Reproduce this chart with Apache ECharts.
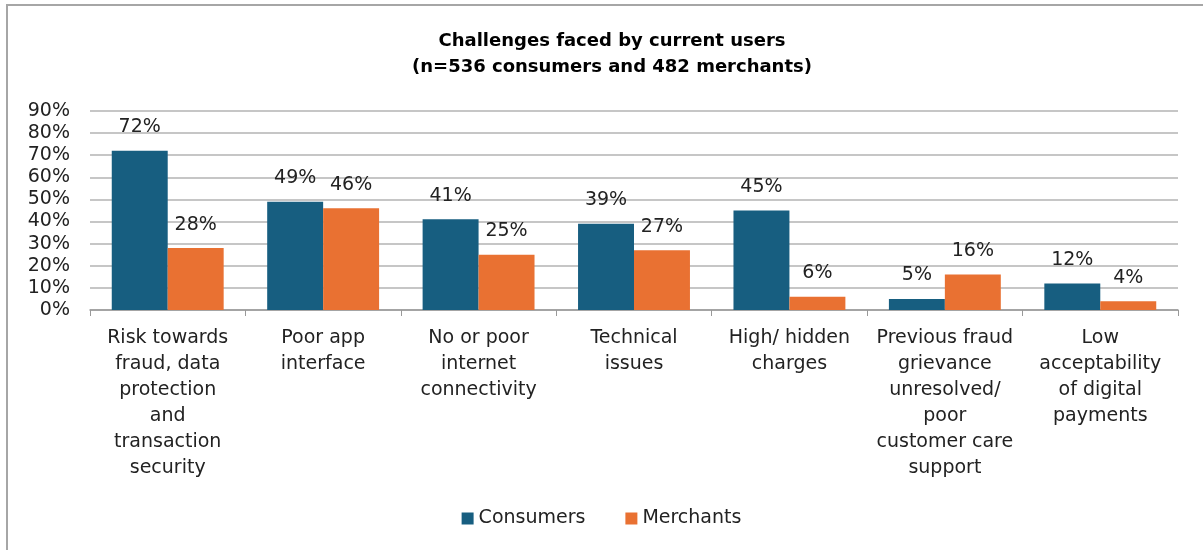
<!DOCTYPE html>
<html><head><meta charset="utf-8">
<script src="https://cdn.jsdelivr.net/npm/echarts@6/dist/echarts.min.js"></script>
<style>
html,body{margin:0;padding:0;background:#fff;overflow:hidden;}
#ltop{position:absolute;left:6px;top:4px;width:1197px;height:2px;background:#a6a6a6;}
#lleft{position:absolute;left:6px;top:4px;width:2px;height:546px;background:#a6a6a6;}
#chart{position:absolute;left:0;top:0;width:1203px;height:550px;}
</style></head>
<body>
<div id="ltop"></div>
<div id="lleft"></div>
<div id="chart"></div>
<script>
const categories = [
  "Risk towards\nfraud, data\nprotection\nand\ntransaction\nsecurity",
  "Poor app\ninterface",
  "No or poor\ninternet\nconnectivity",
  "Technical\nissues",
  "High/ hidden\ncharges",
  "Previous fraud\ngrievance\nunresolved/\npoor\ncustomer care\nsupport",
  "Low\nacceptability\nof digital\npayments"
];
const consumers = [72, 49, 41, 39, 45, 5, 12];
const merchants = [28, 46, 25, 27, 6, 16, 4];
const yTicks = [0, 10, 20, 30, 40, 50, 60, 70, 80, 90];

const FONT = '"DejaVu Sans", sans-serif';
const chart = echarts.init(document.getElementById('chart'));
chart.setOption({
  backgroundColor: 'transparent',
  animation: false,
  title: {
    text: 'Challenges faced by current users\n(n=536 consumers and 482 merchants)',
    left: 607, top: 23, textAlign: 'center',
    textStyle: {fontFamily: FONT, fontSize: 18, fontWeight: 'bold', color: '#000', lineHeight: 26}
  },
  legend: {
    data: ['Consumers', 'Merchants'],
    bottom: 17, left: 'center',
    icon: 'rect', itemWidth: 12, itemHeight: 12, itemGap: 40, itemStyle: {borderWidth: 0},
    textStyle: {fontFamily: FONT, fontSize: 19, color: '#222'}
  },
  grid: {left: 90, right: 25, top: 111, bottom: 240, containLabel: false},
  xAxis: {
    type: 'category', data: categories,
    axisLine: {lineStyle: {color: '#999', width: 1.5}},
    axisTick: {show: true, length: 6, lineStyle: {color: '#999'}},
    axisLabel: {fontFamily: FONT, fontSize: 19, color: '#222', lineHeight: 26, margin: 15, interval: 0}
  },
  yAxis: {
    type: 'value', min: 0, max: 90, interval: 10,
    axisLine: {show: false}, axisTick: {show: false},
    splitLine: {lineStyle: {color: '#b3b3b3', width: 1.5}},
    axisLabel: {fontFamily: FONT, fontSize: 19, color: '#222', margin: 20, formatter: v => v + '%'}
  },
  series: [
    {name: 'Consumers', type: 'bar', data: consumers, barGap: '0%', barCategoryGap: '28%',
     itemStyle: {color: '#175e80'},
     label: {show: true, position: 'top', distance: 14, formatter: p => p.value + '%',
       fontFamily: FONT, fontSize: 19, color: '#222'}},
    {name: 'Merchants', type: 'bar', data: merchants, barGap: '0%', barCategoryGap: '28%',
     itemStyle: {color: '#e97132'},
     label: {show: true, position: 'top', distance: 14, formatter: p => p.value + '%',
       fontFamily: FONT, fontSize: 19, color: '#222'}}
  ]
});
</script>
</body></html>
